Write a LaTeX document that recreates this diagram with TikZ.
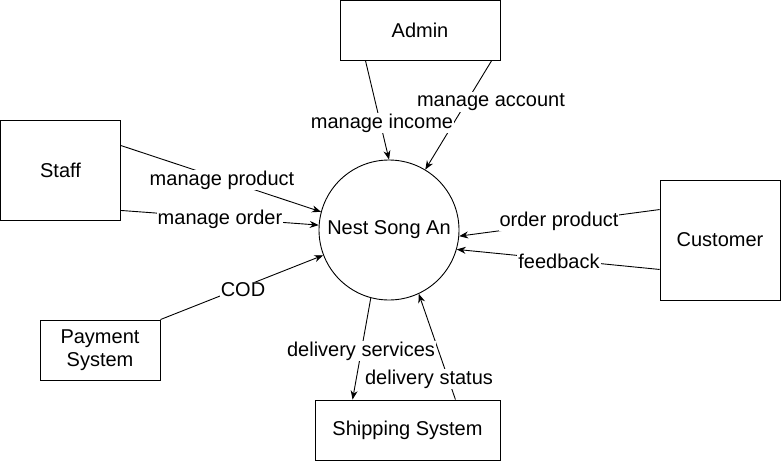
\documentclass[tikz,border=0pt]{standalone}
\usepackage{fontspec}
\setmainfont{Liberation Sans}
\usetikzlibrary{arrows.meta,calc}
\begin{document}
\begin{tikzpicture}[x=1pt,y=-1pt,
  every node/.style={font=\fontsize{20}{23.5}\selectfont},
  box/.style={draw,line width=0.9pt,rectangle,inner sep=0pt,align=center},
  proc/.style={draw,line width=0.9pt,circle,minimum size=140pt,inner sep=0pt},
  flow/.style={line width=0.9pt,-{Stealth[length=9pt,width=7pt]}},
  lbl/.style={fill=white,inner sep=1pt}]
\useasboundingbox (0,0) rectangle (781,461);
\node[box,minimum width=160pt,minimum height=60pt] (admin) at (420,30.5) {Admin};
\node[box,minimum width=120pt,minimum height=100pt] (staff) at (60.5,170) {Staff};
\node[box,minimum width=120pt,minimum height=120pt] (cust) at (720,240) {Customer};
\node[box,minimum width=120pt,minimum height=60pt] (pay) at (100,350) {Payment\\System};
\node[box,minimum width=185pt,minimum height=60pt] (ship) at (407.5,430) {Shipping System};
\node[proc] (nsa) at (389,230) {Nest Song An};

\draw[flow] ([xshift=26pt]admin.south west) -- (nsa.90);
\draw[flow] ([xshift=-9pt]admin.south east) -- (nsa.59);
\draw[flow] ([yshift=-26pt]staff.north east) -- (nsa.165);
\draw[flow] ([yshift=10pt]staff.south east) -- (nsa.176);
\draw[flow] ([yshift=-30pt]cust.north west) -- (nsa.-5);
\draw[flow] ([yshift=31pt]cust.south west) -- (nsa.-16);
\draw[flow] (pay.north east) -- (nsa.201.6);
\draw[flow] (nsa.255.4) -- ([xshift=38pt]ship.north west);
\draw[flow] ([xshift=-45pt]ship.north east) -- (nsa.295);

\node[lbl] (l1) at (382,123) {manage income};
\node[lbl] (l2) at (491,102) {manage account};
\node[lbl] (l3) at (222,180) {manage product};
\node[lbl] (l4) at (220,219) {manage order};
\node[lbl] (l5) at (559,221) {order product};
\node[lbl] (l6) at (559,261) {feedback};
\node[lbl] (l7) at (243,290) {COD};
\node[lbl] (l8) at (361,351) {delivery services};
\node[lbl] (l9) at (429,379) {delivery status};
\end{tikzpicture}
\end{document}
